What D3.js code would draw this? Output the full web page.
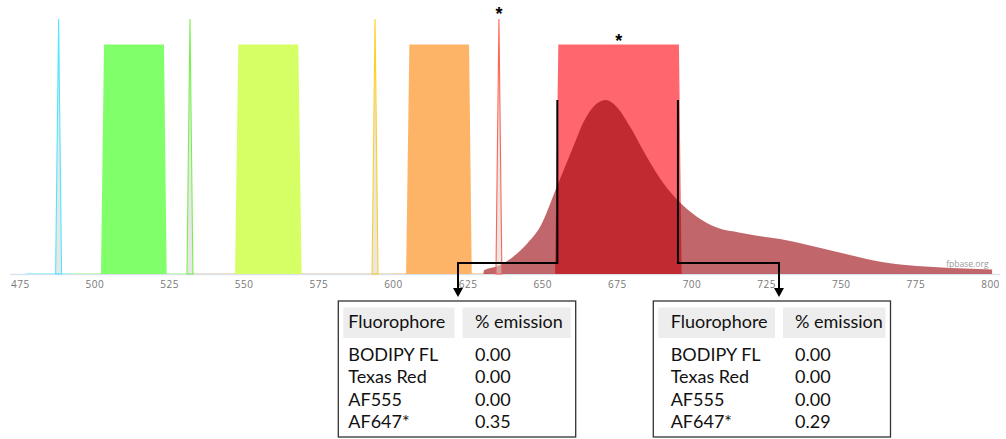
<!DOCTYPE html>
<html><head><meta charset="utf-8">
<script src="https://cdn.jsdelivr.net/npm/d3@7"></script>
<style>
html,body{margin:0;padding:0;background:#fff;}
svg{display:block;}
</style></head>
<body>
<svg id="chart" width="1006" height="439"></svg>
<script>
// ---- data ----
const axisTicks = [475,500,525,550,575,600,625,650,675,700,725,750,775,800];
const laserLines = [488, 532, 594, 635.5];
const laserColors = ["#3fe6ff", "#6cf03c", "#ffcc11", "#ff5540"];
// filter bands: [bottomStart, topStart, topEnd, bottomEnd] in nm
const bandEdges = [
  [502.2, 503.2, 523.3, 524.2],
  [547.1, 548.2, 568.3, 569.4],
  [604.4, 605.5, 625.5, 626.4],
  [654.3, 655.4, 695.8, 696.7]
];
const bandColors = ["#80ff6a", "#d6ff66", "#fdb466", "#ff666e"];
const bandTransmission = 0.9;
// AF647 emission (nm, relative)
const emissionNm  = [630.3, 630.5, 635, 640.3, 645, 649.3, 654.9, 660.4, 663.8, 667.1, 671.3, 674.9, 679.4, 685.0, 690.6, 695.8, 701.8, 708.5, 716.3, 722, 729.7, 739.7, 753.1, 764.3, 775.5, 786.7, 800.7];
const emissionVal = [0, 0.015, 0.03, 0.068, 0.12, 0.185, 0.342, 0.499, 0.595, 0.655, 0.682, 0.656, 0.578, 0.46, 0.356, 0.284, 0.225, 0.182, 0.162, 0.150, 0.137, 0.112, 0.075, 0.046, 0.031, 0.024, 0.018];
const fluorophores = ["BODIPY FL", "Texas Red", "AF555", "AF647*"];
const emissionLeftTable  = [0.00, 0.00, 0.00, 0.35];
const emissionRightTable = [0.00, 0.00, 0.00, 0.29];
const tableHeaders = ["Fluorophore", "% emission"];

// ---- scales ----
const svg = d3.select("#chart");
const x = d3.scaleLinear().domain([475, 800]).range([19.8, 990]);
const y = d3.scaleLinear().domain([0, 1]).range([274, 19]);

// axis domain line
svg.append("line").attr("x1", x(471.7)).attr("x2", x(803.4)).attr("y1", 274.5).attr("y2", 274.5)
  .attr("stroke", "#dbe2ee").attr("stroke-width", 1.5);

// faint baselines of filters
const faint = [[477, 492, "#9cf0f8"], [492, 532, "#bff5b5"], [533, 600, "#e8dcc8"], [600, 632, "#f5d2a8"]];
faint.forEach(f => svg.append("line").attr("x1", x(f[0])).attr("x2", x(f[1])).attr("y1", 273.6).attr("y2", 273.6)
  .attr("stroke", f[2]).attr("stroke-width", 1));

const area = d3.area().x(d => x(d[0])).y0(y(0)).y1(d => y(d[1]));

// bands
bandEdges.forEach((b, i) => {
  const pts = [[b[0], 0], [b[1], bandTransmission], [b[2], bandTransmission], [b[3], 0]];
  svg.append("path").attr("d", area(pts)).attr("fill", bandColors[i]);
});

// emission
const emPts = emissionNm.map((n, i) => [n, emissionVal[i]]);
svg.append("path").attr("d", area.curve(d3.curveMonotoneX)(emPts))
  .attr("fill", "rgb(153,5,12)").attr("fill-opacity", 0.61);
area.curve(d3.curveLinear);

// lasers
laserLines.forEach((n, i) => {
  const pts = [[n - 1.0, 0], [n, 1], [n + 1.0, 0]];
  svg.append("path").attr("d", area(pts)).attr("fill", "#d4d4d4").attr("fill-opacity", 0.55)
    .attr("stroke", laserColors[i]).attr("stroke-width", 1.1).attr("stroke-opacity", 0.9);
});

// axis
const axis = d3.axisBottom(x).tickValues(axisTicks).tickSize(0).tickPadding(7).tickFormat(d3.format("d"));
const gAx = svg.append("g").attr("transform", `translate(0,${y(0)})`).call(axis);
gAx.select(".domain").remove();
gAx.selectAll("text").attr("fill", "#777").attr("font-size", "10px")
  .attr("font-family", "'Open Sans', sans-serif").attr("letter-spacing", "0.5px");

// watermark
svg.append("text").attr("x", x(799.5)).attr("y", 266.5).attr("text-anchor", "end")
  .attr("fill", "#999").attr("font-size", "8.5px").attr("font-family", "'Open Sans', sans-serif").text("fpbase.org");

// asterisks
svg.append("text").attr("x", x(laserLines[3])).attr("y", 20).attr("text-anchor", "middle")
  .attr("font-size", "18px").attr("font-family", "'Liberation Sans', Arial, sans-serif").attr("font-weight", "bold").text("*");
svg.append("text").attr("x", (x(bandEdges[3][1]) + x(bandEdges[3][2])) / 2).attr("y", 46.5).attr("text-anchor", "middle")
  .attr("font-size", "18px").attr("font-family", "'Liberation Sans', Arial, sans-serif").attr("font-weight", "bold").text("*");

// arrows from band edges to tables
const arrowTopY = 100, arrowMidY = 263, arrowEndY = 297;
const leftArrowX = 458, rightArrowX = 779;
function arrow(fromX, toX) {
  svg.append("path").attr("d", `M${fromX},${arrowTopY}V${arrowMidY}H${toX}V${arrowEndY - 8}`)
    .attr("fill", "none").attr("stroke", "#000").attr("stroke-width", 2);
  svg.append("path").attr("d", `M${toX - 5},${arrowEndY - 9}L${toX + 5},${arrowEndY - 9}L${toX},${arrowEndY}Z`).attr("fill", "#000");
}
arrow(x(bandEdges[3][1]) - 1, leftArrowX);
arrow(x(bandEdges[3][2]) - 1, rightArrowX);

// tables
function table(left, right, col1, col2, col2Start, values) {
  const g = svg.append("g");
  g.append("rect").attr("x", left).attr("y", 301).attr("width", right - left).attr("height", 136)
    .attr("fill", "#fff").attr("stroke", "#333").attr("stroke-width", 1.3);
  g.append("rect").attr("x", left + 5).attr("y", 307.5).attr("width", col2Start - left - 13).attr("height", 30.5).attr("fill", "#ededed");
  g.append("rect").attr("x", col2Start).attr("y", 307.5).attr("width", right - col2Start - 5).attr("height", 30.5).attr("fill", "#ededed");
  const font = "Lato, 'Open Sans', sans-serif";
  g.append("text").attr("x", col1).attr("y", 328.3).text(tableHeaders[0]);
  g.append("text").attr("x", col2).attr("y", 328.3).text(tableHeaders[1]);
  const rowY = [360.7, 383.3, 406, 428.3];
  fluorophores.forEach((f, i) => {
    g.append("text").attr("x", col1).attr("y", rowY[i]).text(f);
    g.append("text").attr("x", col2).attr("y", rowY[i]).text(values[i].toFixed(2));
  });
  g.selectAll("text").attr("font-family", font).attr("font-size", "18px").attr("fill", "#111");
}
table(338.3, 575.7, 348.3, 475, 462.5, emissionLeftTable);
table(653.3, 890.5, 670.7, 795, 783, emissionRightTable);
</script>
</body></html>
